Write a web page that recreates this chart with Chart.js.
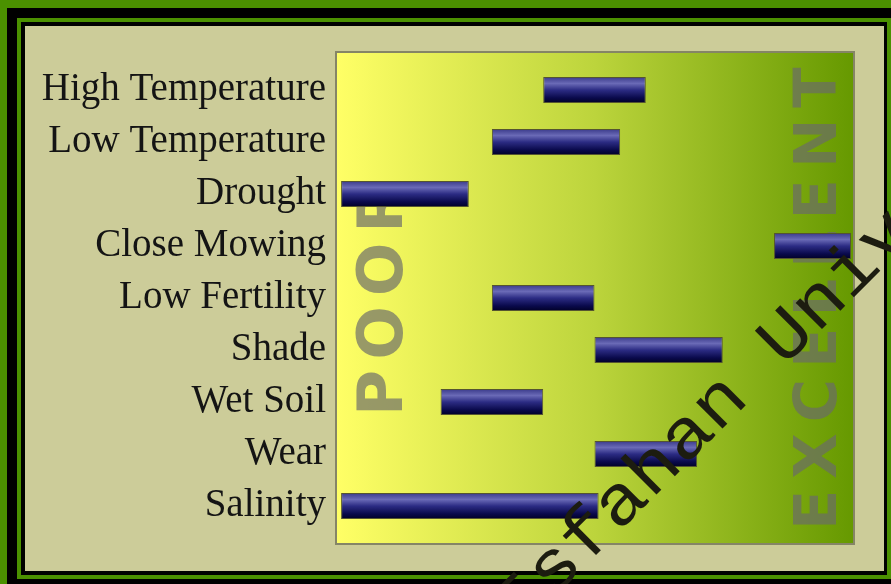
<!DOCTYPE html>
<html>
<head>
<meta charset="utf-8">
<script src="https://cdn.jsdelivr.net/npm/chart.js@4.4.1/dist/chart.umd.min.js"></script>
<style>
  html, body { margin: 0; padding: 0; background: #4b9100; overflow: hidden; }
  canvas { display: block; }
</style>
</head>
<body>
<canvas id="chart" width="891" height="584"></canvas>
<script>
const categories = [
  "High Temperature", "Low Temperature", "Drought", "Close Mowing", "Low Fertility",
  "Shade", "Wet Soil", "Wear", "Salinity",
];
const lowValues = [4, 3, 0.06, 8.5, 3, 5, 2, 5, 0.06];
const highValues = [6, 5.5, 2.55, 10, 5, 7.5, 4, 7, 5.08];
const poorLabel = "POOR";
const excellentLabel = "EXCELLENT";
const watermark = "Isfahan University of Technology";

Chart.defaults.animation = false;
Chart.defaults.plugins.legend.display = false;
Chart.defaults.plugins.tooltip.enabled = false;

const BEIGE = "#cccc99";

// frame + gradient plot background
const framePlugin = {
  id: "frame",
  beforeDraw(chart) {
    const c = chart.ctx, a = chart.chartArea;
    c.save();
    c.fillStyle = "#4b9100"; c.fillRect(0, 0, 891, 584);
    c.fillStyle = "#000"; c.fillRect(7, 8, 900, 600);
    c.fillStyle = "#4b9100"; c.fillRect(17, 18, 874, 561);
    c.fillStyle = "#000"; c.fillRect(21, 22, 866, 553);
    c.fillStyle = BEIGE; c.fillRect(25, 26, 859, 545);

    const L = a.left - 1, R = a.right + 2, T = a.top - 11, B = a.bottom + 11;
    const g = c.createLinearGradient(L, 0, R, 0);
    g.addColorStop(0, "#ffff66");
    g.addColorStop(0.5, "#bcd43c");
    g.addColorStop(1, "#669900");
    c.fillStyle = g;
    c.fillRect(L, T, R - L, B - T);
    c.strokeStyle = "#858566";
    c.lineWidth = 2;
    c.strokeRect(L - 1, T - 1, R - L + 2, B - T + 2);
    c.restore();
  },
  beforeDatasetsDraw(chart) {
    const c = chart.ctx, x = chart.scales.x, a = chart.chartArea;
    c.save();
    c.fillStyle = "rgba(106,106,106,0.68)";
    const vert = (txt, bx, startY, size, gap) => {
      c.font = `bold ${size}px "DejaVu Sans"`;
      let y = startY;
      for (const ch of txt) {
        const w = c.measureText(ch).width;
        c.save();
        c.translate(bx, y);
        c.rotate(-Math.PI / 2);
        c.textAlign = "left";
        c.textBaseline = "alphabetic";
        c.fillText(ch, 0, 0);
        c.restore();
        y -= w + gap;
      }
    };
    vert(poorLabel, x.getPixelForValue(1.25), a.bottom - 116, 63, 10);
    vert(excellentLabel, x.getPixelForValue(9.7), a.bottom - 2, 59, 11);
    c.restore();
  },
  afterDraw(chart) {
    const c = chart.ctx;
    c.save();
    c.translate(519, 632);
    c.rotate(-Math.PI / 4);
    c.scale(1, 0.9);
    c.font = '78px "Liberation Mono", "DejaVu Sans Mono", monospace';
    c.fillStyle = "#1c1c10";
    c.textBaseline = "alphabetic";
    c.fillText(watermark, 0, 0);
    c.restore();
  },
};

function barFill(ctx) {
  const chart = ctx.chart;
  if (!chart.chartArea || !chart.scales.y) return "#1a1a66";
  const y = chart.scales.y.getPixelForValue(ctx.dataIndex);
  const g = chart.ctx.createLinearGradient(0, y - 13, 0, y + 13);
  g.addColorStop(0, "#3a3a8a");
  g.addColorStop(0.25, "#6a6ab6");
  g.addColorStop(0.5, "#2c2c84");
  g.addColorStop(0.8, "#0a0a4c");
  g.addColorStop(1, "#000026");
  return g;
}

function draw() {
  new Chart(document.getElementById("chart"), {
    type: "bar",
    data: {
      labels: categories,
      datasets: [{
        data: categories.map((c, i) => [lowValues[i], highValues[i]]),
        backgroundColor: barFill,
        borderColor: "#555530",
        borderWidth: 1,
        borderSkipped: false,
        categoryPercentage: 1,
        barPercentage: 0.5,
      }],
    },
    options: {
      indexAxis: "y",
      responsive: false,
      devicePixelRatio: 1,
      layout: { padding: { left: 0, right: 40, top: 64, bottom: 52 } },
      scales: {
        x: { display: false, min: 0, max: 10 },
        y: {
          grid: { display: false, drawTicks: false },
          border: { display: false },
          ticks: {
            padding: 12,
            color: "#141414",
            font: { family: '"Liberation Serif"', size: 39 },
          },
          afterFit: (s) => { s.width = 338; },
        },
      },
    },
    plugins: [framePlugin],
  });
}

Promise.all([
  document.fonts.load('78px "Liberation Mono"'),
  document.fonts.load('39px "Liberation Serif"'),
  document.fonts.load('bold 60px "DejaVu Sans"'),
]).then(draw, draw);
</script>
</body>
</html>
